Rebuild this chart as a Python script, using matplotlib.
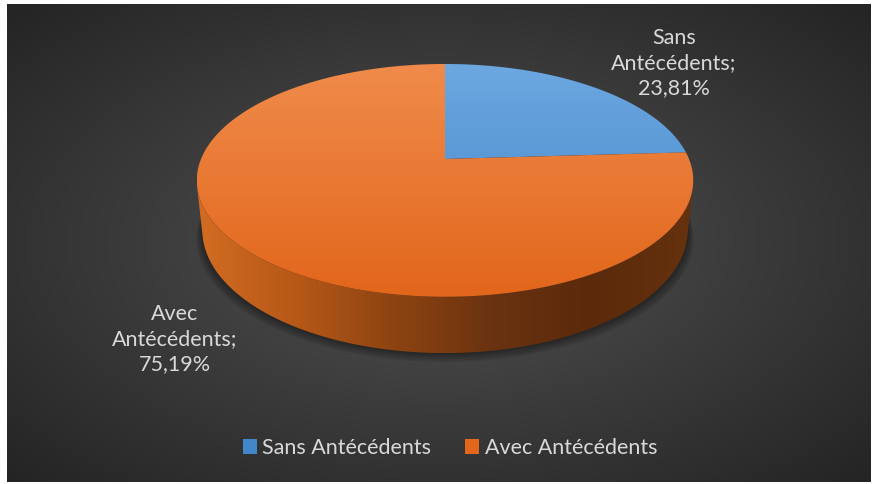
import numpy as np
import matplotlib
matplotlib.use("Agg")
import matplotlib.pyplot as plt
from matplotlib.patches import Polygon, Patch
from matplotlib.colors import LinearSegmentedColormap, to_rgb

# donnees
categories = ["Sans Antécédents", "Avec Antécédents"]
valeurs = [23.81, 75.19]
couleurs_haut = [("#6CA7E0", "#4287C9"), ("#F08B4B", "#E2661B")]
couleurs_cote = ["#D26C22", "#B65817", "#8C4311", "#6A3210", "#5A2A0B", "#66320E"]
couleur_texte = "#D9D9D9"

W, H = 873, 484
# geometrie du camembert 3D (pixels)
cx, cy = 445, 159
echelle = 244
phi = np.radians(27.45)
dist = 4.83
epaisseur = 0.232


def projette(theta, z):
    # theta : angle depuis le haut, sens horaire
    x = np.sin(theta)
    y = np.cos(theta)
    v = y * np.sin(phi) + z * np.cos(phi)
    w = dist + y * np.cos(phi) - z * np.sin(phi)
    return cx + echelle * x * dist / w, cy - echelle * v * dist / w


def degrade(ax, poly, couleurs, vertical=True, n=256):
    xs, ys = poly.get_xy()[:, 0], poly.get_xy()[:, 1]
    cmap = LinearSegmentedColormap.from_list("g", couleurs)
    t = np.linspace(0, 1, n)
    if vertical:
        img = cmap(t)[:, None, :3]
    else:
        img = cmap(t)[None, :, :3]
    im = ax.imshow(img, extent=(xs.min(), xs.max(), ys.max(), ys.min()),
                   aspect="auto", interpolation="bilinear", zorder=poly.get_zorder())
    im.set_clip_path(poly)


fig = plt.figure(figsize=(W / 100, H / 100), dpi=100, facecolor="white")
ax = fig.add_axes([0, 0, 1, 1])
ax.axis("off")

# fond en degrade radial
x0, x1, y0, y1 = 7, 871, 4, 482
gx, gy = np.meshgrid(np.linspace(-1, 1, x1 - x0), np.linspace(-1, 1, y1 - y0))
r = np.clip(np.sqrt(gx ** 2 + gy ** 2) / np.sqrt(2), 0, 1)
c_centre = np.array(to_rgb("#525252"))
c_bord = np.array(to_rgb("#242424"))
fond = c_centre[None, None, :] * (1 - r[..., None]) + c_bord[None, None, :] * r[..., None]
ax.imshow(fond, extent=(x0, x1, y1, y0), aspect="auto", interpolation="bilinear", zorder=0)

# angles des parts (normalises par la somme, comme Excel)
total = sum(valeurs)
bornes = np.concatenate([[0], np.cumsum(valeurs) / total * 2 * np.pi])
# partie visible du cote
lim = np.arccos(-1 / (dist * np.cos(phi)))
vis_a, vis_b = lim, 2 * np.pi - lim

# ombre
tt = np.linspace(0, 2 * np.pi, 300)
for k in range(7):
    bx, by = projette(tt, -epaisseur)
    bx = cx + (bx - cx) * (1 + 0.004 * k)
    by = by + 1.5 * k
    ax.add_patch(Polygon(np.column_stack([bx, by]), closed=True, fc="black",
                         ec="none", alpha=0.07, zorder=1))

# cotes
for i in range(len(valeurs)):
    a, b = max(bornes[i], vis_a), min(bornes[i + 1], vis_b)
    if a >= b:
        continue
    t = np.linspace(a, b, 200)
    hx, hy = projette(t, 0)
    bx, by = projette(t[::-1], -epaisseur)
    poly = Polygon(np.column_stack([np.r_[hx, bx], np.r_[hy, by]]), closed=True,
                   fc="none", ec="none", zorder=2)
    ax.add_patch(poly)
    degrade(ax, poly, couleurs_cote, vertical=False)

# dessus
for i in range(len(valeurs)):
    t = np.linspace(bornes[i], bornes[i + 1], 300)
    hx, hy = projette(t, 0)
    poly = Polygon(np.column_stack([np.r_[cx, hx], np.r_[cy, hy]]), closed=True,
                   fc="none", ec="none", zorder=3)
    ax.add_patch(poly)
    # degrade sur toute la hauteur du disque
    tx, ty = projette(np.linspace(0, 2 * np.pi, 300), 0)
    cmap = LinearSegmentedColormap.from_list("g", couleurs_haut[i])
    img = cmap(np.linspace(0, 1, 256))[:, None, :3]
    im = ax.imshow(img, extent=(tx.min(), tx.max(), ty.max(), ty.min()),
                   aspect="auto", interpolation="bilinear", zorder=3)
    im.set_clip_path(poly)

# etiquettes
police = ["Lato", "DejaVu Sans"]
pos_etiquettes = [(674, 63), (175, 339)]
for i, nom in enumerate(categories):
    txt = nom.replace(" ", "\n", 1) + ";\n" + f"{valeurs[i]:.2f}%".replace(".", ",")
    ax.text(pos_etiquettes[i][0], pos_etiquettes[i][1], txt, ha="center", va="center",
            color=couleur_texte, fontsize=15.5, family=police, linespacing=1.3, zorder=5)

# legende
poignees = [Patch(facecolor=couleurs_haut[i][1], edgecolor="none", label=categories[i])
            for i in range(len(categories))]
leg = ax.legend(handles=poignees, loc="center", bbox_to_anchor=(450, 448),
                bbox_transform=ax.transData, ncol=2, frameon=False,
                handlelength=0.65, handleheight=0.65, handletextpad=0.25,
                columnspacing=1.6, prop={"family": police, "size": 15.5})
for t in leg.get_texts():
    t.set_color(couleur_texte)

ax.set_xlim(0, W)
ax.set_ylim(H, 0)
fig.savefig("out.png", dpi=100, facecolor="white")
